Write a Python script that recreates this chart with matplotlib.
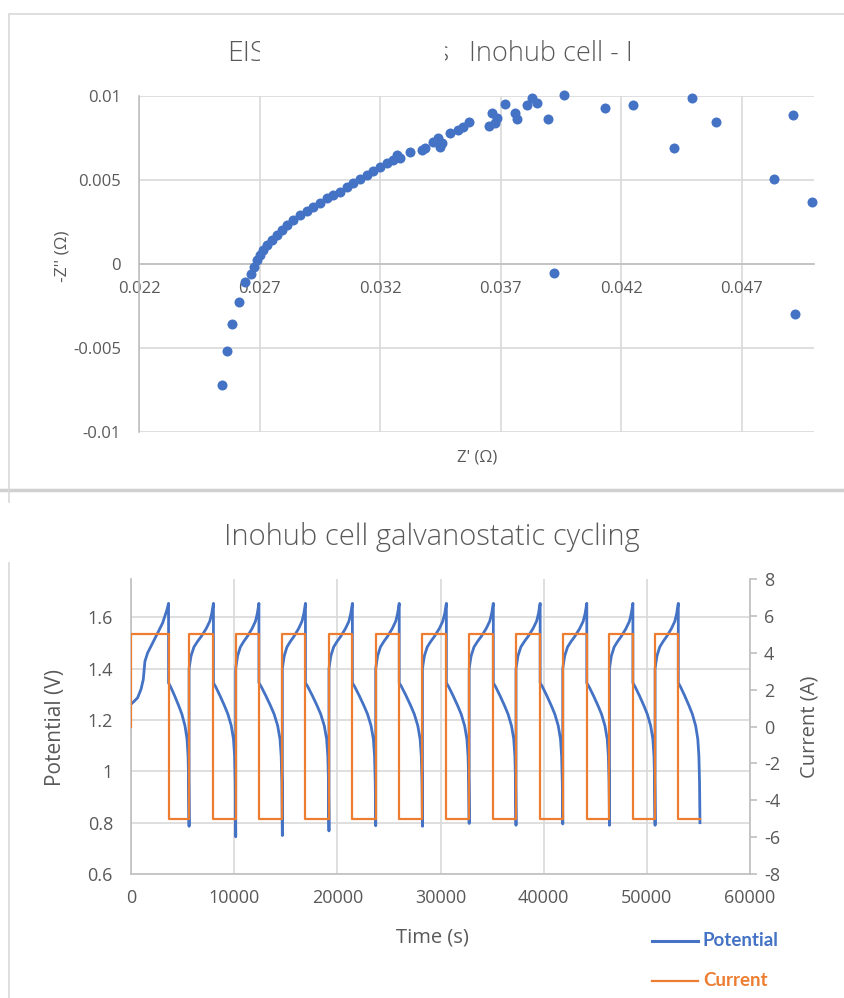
import matplotlib
matplotlib.use("Agg")
import matplotlib.pyplot as plt
from matplotlib.lines import Line2D
from matplotlib.patches import Rectangle
from matplotlib.transforms import Bbox, TransformedBbox

# ---------------- EIS (Nyquist) data ----------------
z_real = [0.02543, 0.02564, 0.02587, 0.02616, 0.02640, 0.02663, 0.02677, 0.02688,
          0.02702, 0.02716, 0.02730, 0.02751, 0.02771, 0.02792, 0.02813, 0.02840,
          0.02868, 0.02896, 0.02923, 0.02951, 0.02979, 0.03006, 0.03034, 0.03062,
          0.03089, 0.03117, 0.03145, 0.03172, 0.03200, 0.03228, 0.03255, 0.03269,
          0.03283, 0.03324, 0.03373, 0.03387, 0.03421, 0.03442, 0.03449, 0.03456,
          0.03490, 0.03525, 0.03546, 0.03567, 0.03650, 0.03664, 0.03677, 0.03684,
          0.03718, 0.03760, 0.03767, 0.03809, 0.03829, 0.03850, 0.03897, 0.03920,
          0.03965, 0.04131, 0.04248, 0.04420, 0.04495, 0.04594, 0.04835, 0.04911,
          0.04921, 0.04990]
z_imag = [-0.00720, -0.00518, -0.00357, -0.00224, -0.00105, -0.00061, -0.00016, 0.00024,
          0.00054, 0.00083, 0.00113, 0.00143, 0.00173, 0.00202, 0.00232, 0.00262,
          0.00292, 0.00315, 0.00341, 0.00365, 0.00391, 0.00411, 0.00431, 0.00456,
          0.00480, 0.00504, 0.00530, 0.00556, 0.00579, 0.00599, 0.00619, 0.00649,
          0.00629, 0.00668, 0.00679, 0.00689, 0.00728, 0.00748, 0.00698, 0.00718,
          0.00778, 0.00798, 0.00817, 0.00847, 0.00821, 0.00897, 0.00837, 0.00867,
          0.00952, 0.00901, 0.00861, 0.00946, 0.00986, 0.00956, 0.00865, -0.00055,
          0.01006, 0.00927, 0.00946, 0.00689, 0.00986, 0.00847, 0.00506, 0.00885,
          -0.00300, 0.00367]
eis_xticks = [0.022, 0.027, 0.032, 0.037, 0.042, 0.047]
eis_xticklabels = ["0.022", "0.027", "0.032", "0.037", "0.042", "0.047"]
eis_yticks = [-0.01, -0.005, 0, 0.005, 0.01]
eis_yticklabels = ["-0.01", "-0.005", "0", "0.005", "0.01"]

# ---------------- Galvanostatic cycling data ----------------
charge_start = [0, 5630, 10150, 14670, 19190, 23720, 28250, 32780, 37320, 41850, 46380, 50800]
charge_end = [3640, 7990, 12400, 16910, 21460, 26000, 30570, 35120, 39660, 44180, 48650, 53050]
run_end = 55150
discharge_min = [0.786, 0.745, 0.750, 0.768, 0.788, 0.786, 0.797, 0.790, 0.795, 0.790, 0.790, 0.800]
first_charge_t = [0, 320, 640, 970, 1190, 1350, 1610, 2090, 2580, 3060, 3480, 3640]
first_charge_v = [1.262, 1.274, 1.287, 1.320, 1.358, 1.429, 1.462, 1.500, 1.539, 1.578, 1.629, 1.655]
charge_frac = [0.0, 0.03, 0.08, 0.20, 0.35, 0.50, 0.70, 0.85, 0.93, 1.0]
charge_v = [1.400, 1.420, 1.450, 1.485, 1.507, 1.526, 1.556, 1.585, 1.615, 1.655]
disch_frac = [0.0, 0.10, 0.30, 0.50, 0.65, 0.80, 0.90, 0.95, 0.98, 1.0]
disch_v = [1.345, 1.330, 1.294, 1.255, 1.223, 1.178, 1.126, 1.061, 0.959]
current_on = 5
current_off = -5
cyc_xticks = [0, 10000, 20000, 30000, 40000, 50000, 60000]
pot_yticks = [0.6, 0.8, 1.0, 1.2, 1.4, 1.6]
pot_yticklabels = ["0.6", "0.8", "1", "1.2", "1.4", "1.6"]
cur_yticks = [-8, -6, -4, -2, 0, 2, 4, 6, 8]

BLUE = "#4472C4"
ORANGE = "#ED7D31"
TXT = "#595959"
GRID = "#d9d9d9"
AXL = "#bfbfbf"

W, H = 844, 998
fig = plt.figure(figsize=(W / 100, H / 100), dpi=100)
fig.patch.set_facecolor("white")

def fx(px):
    return px / W

def fy(py):
    return 1 - py / H

TICKFONT = "Open Sans"
LABFONT = "Open Sans"
TITLEFONT = "Open Sans"

def clip_x(txt, x0, x1):
    txt.set_clip_box(TransformedBbox(Bbox.from_extents(fx(x0), 0, fx(x1), 1), fig.transFigure))
    txt.set_clip_on(True)

# chart frames
fig.add_artist(Rectangle((fx(8.5), fy(490)), 1.0, (490 - 14) / H, transform=fig.transFigure,
                         fill=False, edgecolor=GRID, lw=1.2))
fig.add_artist(Line2D([0, 1], [fy(490), fy(490)], transform=fig.transFigure, color="#d0d0d0", lw=2.5))
fig.add_artist(Line2D([fx(8.5), fx(8.5)], [fy(490), fy(502)], transform=fig.transFigure, color=GRID, lw=1.2))
fig.add_artist(Line2D([fx(8.5), fx(8.5)], [fy(563), 0], transform=fig.transFigure, color=GRID, lw=1.2))

# ---------------- Top chart ----------------
ax1 = fig.add_axes([fx(139), fy(432), (814 - 139) / W, (432 - 96) / H])
ax1.scatter(z_real, z_imag, s=52, color=BLUE, zorder=3, clip_on=False, linewidths=0)
ax1.set_xlim(0.022, 0.050)
ax1.set_ylim(-0.01, 0.01)
ax1.set_xticks(eis_xticks)
ax1.set_xticklabels(eis_xticklabels)
ax1.set_yticks(eis_yticks)
ax1.set_yticklabels(eis_yticklabels)
ax1.grid(True, color=GRID, lw=1.2, zorder=0)
ax1.set_axisbelow(True)
for s in ["top", "right"]:
    ax1.spines[s].set_visible(False)
ax1.spines["left"].set_color(AXL)
ax1.spines["left"].set_linewidth(1.2)
ax1.spines["bottom"].set_position(("data", 0))
ax1.spines["bottom"].set_color(AXL)
ax1.spines["bottom"].set_linewidth(1.2)
ax1.tick_params(axis="both", length=0, labelsize=12, colors=TXT)
ax1.tick_params(axis="x", pad=12)
ax1.tick_params(axis="y", pad=13)
for lab in ax1.get_xticklabels() + ax1.get_yticklabels():
    lab.set_fontfamily(TICKFONT)
fig.text(fx(63), fy(256), "-Z'' (Ω)", rotation=90, ha="center", va="center",
         fontsize=12.5, color=TXT, family=TICKFONT)
fig.text(fx(477), fy(458), "Z' (Ω)", ha="center", va="center",
         fontsize=12, color=TXT, family=TICKFONT)

# title (partially hidden in the reference)
t1 = fig.text(fx(227), fy(61), "EIS", ha="left", va="baseline", fontsize=20.5, color=TXT,
              family=TITLEFONT, fontweight="light")
clip_x(t1, 0, 259.5)
t2 = fig.text(fx(449), fy(61), "s", ha="right", va="baseline", fontsize=20.5,
              color=TXT, family=TITLEFONT, fontweight="light")
clip_x(t2, 445, 460)
fig.text(fx(469), fy(61), "Inohub cell - I", ha="left", va="baseline", fontsize=19.5,
         color=TXT, family=TITLEFONT, fontweight="light")

# ---------------- Bottom chart ----------------
t_pot, v_pot = [], []
t_cur, i_cur = [0], [0]
n = len(charge_start)
for k in range(n):
    cs, ce = charge_start[k], charge_end[k]
    ne = charge_start[k + 1] if k + 1 < n else run_end
    if k == 0:
        t_pot += first_charge_t
        v_pot += first_charge_v
    else:
        t_pot += [cs + f * (ce - cs) for f in charge_frac]
        v_pot += charge_v
    t_pot += [ce + f * (ne - ce) for f in disch_frac]
    v_pot += disch_v + [discharge_min[k]]
    t_cur += [cs, ce, ce, ne]
    i_cur += [current_on, current_on, current_off, current_off]

ax2 = fig.add_axes([fx(131), fy(874), (750 - 131) / W, (874 - 579) / H])
ax2.plot(t_pot, v_pot, color=BLUE, lw=2.0, solid_joinstyle="round", zorder=3)
ax2.set_xlim(0, 60000)
ax2.set_ylim(0.6, 1.75)
ax2.set_xticks(cyc_xticks)
ax2.set_xticklabels([str(v) for v in cyc_xticks])
ax2.set_yticks(pot_yticks)
ax2.set_yticklabels(pot_yticklabels)
ax2.grid(True, color=GRID, lw=1.2, zorder=0)
ax2.set_axisbelow(True)
ax2.spines["top"].set_visible(False)
ax2.spines["right"].set_visible(False)
for s in ["left", "bottom"]:
    ax2.spines[s].set_color(AXL)
    ax2.spines[s].set_linewidth(1.2)
ax2.tick_params(axis="both", length=0, labelsize=13, colors=TXT)
ax2.tick_params(axis="x", pad=11)
ax2.tick_params(axis="y", pad=13)
for lab in ax2.get_xticklabels() + ax2.get_yticklabels():
    lab.set_fontfamily(TICKFONT)

ax3 = ax2.twinx()
ax3.plot(t_cur, i_cur, color=ORANGE, lw=1.6, zorder=4)
ax3.set_ylim(-8, 8)
ax3.set_yticks(cur_yticks)
ax3.set_yticklabels([str(v) for v in cur_yticks])
for s in ["top", "left", "bottom"]:
    ax3.spines[s].set_visible(False)
ax3.spines["right"].set_color(AXL)
ax3.spines["right"].set_linewidth(1.2)
ax3.tick_params(axis="y", length=5, width=1.2, color=AXL, labelsize=13, labelcolor=TXT,
                direction="out", pad=5)
for lab in ax3.get_yticklabels():
    lab.set_fontfamily(TICKFONT)

fig.text(fx(432), fy(545), "Inohub cell galvanostatic cycling", ha="center", va="baseline",
         fontsize=21, color=TXT, family=TITLEFONT, fontweight="light")
fig.text(fx(55), fy(728), "Potential (V)", rotation=90, ha="center", va="center",
         fontsize=15, color=TXT, family=LABFONT)
fig.text(fx(810), fy(727), "Current (A)", rotation=90, ha="center", va="center",
         fontsize=14.5, color=TXT, family=LABFONT)
fig.text(fx(432), fy(937), "Time (s)", ha="center", va="center",
         fontsize=14.5, color=TXT, family=LABFONT)

# legend
fig.add_artist(Line2D([fx(652), fx(698)], [fy(941), fy(941)], transform=fig.transFigure,
                      color=BLUE, lw=2.2))
fig.text(fx(703), fy(941), "Potential", ha="left", va="center", fontsize=13.5,
         color=BLUE, family="Lato", fontweight="bold")
fig.add_artist(Line2D([fx(652), fx(698)], [fy(981), fy(981)], transform=fig.transFigure,
                      color=ORANGE, lw=1.6))
fig.text(fx(703), fy(981), "Current", ha="left", va="center", fontsize=13.5,
         color=ORANGE, family="Lato", fontweight="bold")

fig.savefig("out.png", dpi=100, facecolor="white")
